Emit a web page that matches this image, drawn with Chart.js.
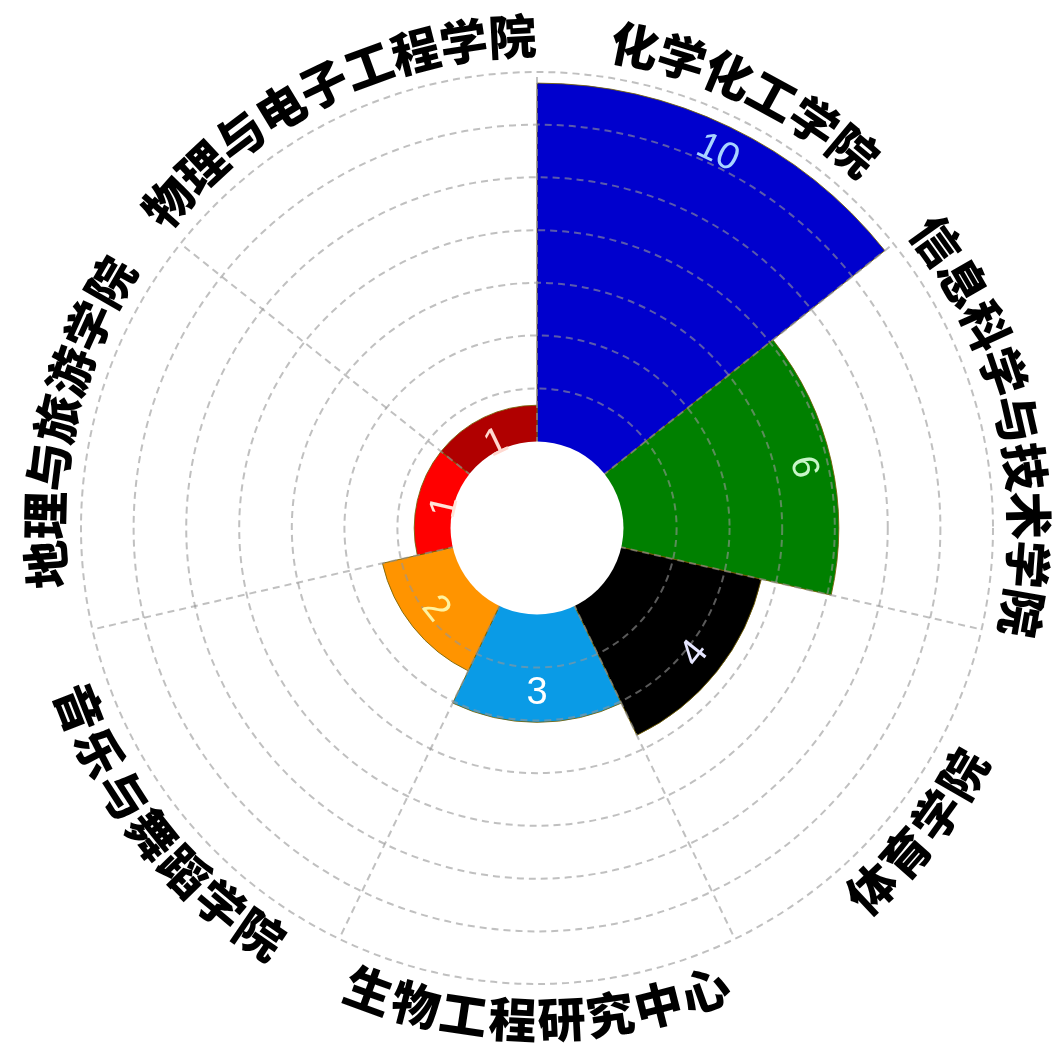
<!DOCTYPE html>
<html>
<head>
<meta charset="utf-8">
<script src="https://cdn.jsdelivr.net/npm/chart.js@4.4.1/dist/chart.umd.min.js"></script>
<style>
  html, body { margin: 0; padding: 0; background: #fff; }
  #wrap { width: 1061px; height: 1055px; }
</style>
</head>
<body>
<div id="wrap"><canvas id="chart"></canvas></div>
<script>
// ---- data ----
const labels = ['化学化工学院', '信息科学与技术学院', '体育学院', '生物工程研究中心', '音乐与舞蹈学院', '地理与旅游学院', '物理与电子工程学院'];
const counts = [10, 6, 4, 3, 2, 1, 1];
const barColors = ['#0000cd', '#008000', '#000000', '#0a9be6', '#ff9400', '#ff0000', '#b00000'];
const valueColors = ['#a8d4ff', '#c8f5c8', '#e6e6ff', '#ffffff', '#fff3a0', '#ffe4d8', '#ffd8d0'];

// radial axis: value 0 sits on the edge of the white hub
const rMin = -2.43;
const rMax = 10.31;
const ringTicks = [1.47, 2.95, 4.42, 5.89, 7.37, 8.84, 10.31];

const gridColor = 'rgba(150,150,150,0.6)';
const valueInset = 0.8;   // value labels sit this far inside the bar end
const labelGap = 36;      // category labels, px outside the outer ring
const charAdvance = 49;   // px per character along the arc

function isFlipped(a) {
    return a > Math.PI / 2 && a < Math.PI * 1.5;
}

// hub + value labels + curved category labels
const roseLabels = {
    id: 'roseLabels',
    afterDraw(chart) {
        const ctx = chart.ctx;
        const s = chart.scales.r;
        const cx = s.xCenter, cy = s.yCenter;
        const half = Math.PI / labels.length;

        ctx.save();
        ctx.beginPath();
        ctx.arc(cx, cy, s.getDistanceFromCenterForValue(0) - 0.5, 0, Math.PI * 2);
        ctx.fillStyle = '#fff';
        ctx.fill();

        ctx.textAlign = 'center';
        ctx.textBaseline = 'middle';

        // numbers in the bars
        ctx.font = '38px "Liberation Sans", Arial, sans-serif';
        counts.forEach((v, i) => {
            const a = s.getIndexAngle(i) + half;
            const r = s.getDistanceFromCenterForValue(v - valueInset);
            ctx.save();
            ctx.translate(cx + r * Math.sin(a), cy - r * Math.cos(a));
            ctx.rotate(isFlipped(a) ? a - Math.PI : a);
            ctx.fillStyle = valueColors[i];
            ctx.fillText(String(v), 0, 0);
            ctx.restore();
        });

        // category names bent along the outer ring
        ctx.font = '900 48px "Noto Sans CJK SC", sans-serif';
        ctx.fillStyle = '#000';
        const rl = s.drawingArea + labelGap;
        const step = charAdvance / rl;
        labels.forEach((text, i) => {
            const a = s.getIndexAngle(i) + half;
            const flip = isFlipped(a);
            const chars = [...text];
            chars.forEach((ch, k) => {
                const off = (k - (chars.length - 1) / 2) * step;
                const ak = flip ? a - off : a + off;
                ctx.save();
                ctx.translate(cx + rl * Math.sin(ak), cy - rl * Math.cos(ak));
                ctx.rotate(flip ? ak - Math.PI : ak);
                ctx.fillText(ch, 0, 0);
                ctx.restore();
            });
        });
        ctx.restore();
    }
};

new Chart(document.getElementById('chart'), {
    type: 'polarArea',
    data: {
        labels,
        datasets: [{
            data: counts,
            backgroundColor: barColors,
            borderColor: 'rgba(115,95,0,0.85)',
            borderWidth: 1
        }]
    },
    options: {
        responsive: true,
        maintainAspectRatio: false,
        animation: false,
        layout: { padding: { left: 81, right: 68, top: 72, bottom: 71 } },
        plugins: { legend: { display: false }, tooltip: { enabled: false } },
        scales: {
            r: {
                min: rMin,
                max: rMax,
                afterBuildTicks: sc => { sc.ticks = ringTicks.map(v => ({ value: v })); },
                ticks: { display: false },
                grid: { circular: true, color: gridColor, lineWidth: 2, z: 1 },
                border: { dash: [7, 5] },
                angleLines: { display: true, color: gridColor, lineWidth: 2, borderDash: [7, 5] },
                pointLabels: { display: false }
            }
        }
    },
    plugins: [roseLabels]
});
</script>
</body>
</html>
